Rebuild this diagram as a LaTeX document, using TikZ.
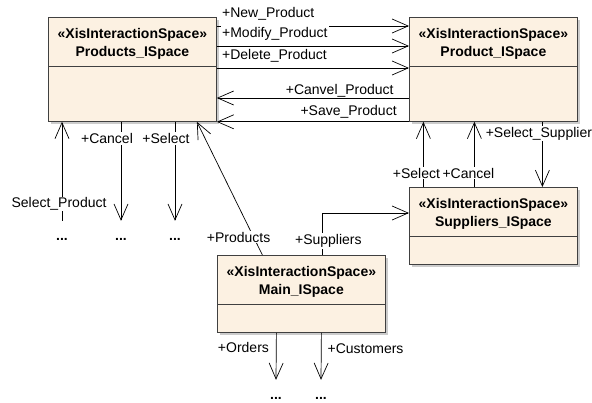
\documentclass[tikz,border=0pt]{standalone}
\usepackage{fontspec}
\setmainfont{Liberation Sans}
\usetikzlibrary{arrows.meta,positioning,shadows}
\definecolor{spacefill}{RGB}{252,241,226}
\definecolor{spaceline}{RGB}{64,64,64}

\tikzset{
  ispace/.style={draw=spaceline, fill=spacefill, line width=0.8pt, minimum width=168pt,
    inner sep=0pt, anchor=north west,
    drop shadow={shadow xshift=2.5pt, shadow yshift=-2.5pt, fill=black!40, opacity=0.5}},
  ititle/.style={font=\bfseries\fontsize{14}{18}\selectfont, align=center, inner sep=0pt},
  assoc/.style={draw=black, line width=0.7pt,
    -{Straight Barb[length=16pt,width=14pt,line width=0.7pt]}},
  role/.style={font=\fontsize{14}{16}\selectfont, fill=white, inner sep=1pt},
  elided/.style={font=\bfseries\fontsize{14}{16}\selectfont, inner sep=0pt, text height=19pt, anchor=base},
}

\begin{document}
\begin{tikzpicture}[x=1pt,y=-1pt]
\useasboundingbox (0,0) rectangle (592,402);

% interaction spaces
\foreach \id/\px/\py/\h/\nm in {products/48/17/104/Products, product/409/17/104/Product,
    suppliers/409/187/77/Suppliers, main/217/255/77/Main}{
  \node[ispace, minimum height=\h pt] (\id) at (\px,\py) {};
  \node[ititle] (\id-title) at ([yshift=-27pt]\id.north) {«XisInteractionSpace»\\\nm\_ISpace};
  \draw[spaceline, line width=0.8pt] ([yshift=-49pt]\id.north west) -- ([yshift=-49pt]\id.north east);
}

% elided targets
\node[elided] (dots1) at (62,240) {...};
\node[elided] (dots2) at (121,240) {...};
\node[elided] (dots3) at (175,240) {...};
\node[elided] (dots4) at (276,399) {...};
\node[elided] (dots5) at (321,399) {...};

% Products_ISpace -> Product_ISpace
\draw[assoc] ([yshift=-9pt]products.north east) -- ([yshift=-9pt]products.north east -| product.west)
  node[role, pos=0, anchor=base west, xshift=4pt, yshift=8.5pt] {+New\_Product};
\draw[assoc] ([yshift=-29pt]products.north east) -- ([yshift=-29pt]products.north east -| product.west)
  node[role, pos=0, anchor=base west, xshift=4pt, yshift=8.5pt] {+Modify\_Product};
\draw[assoc] ([yshift=-51pt]products.north east) -- ([yshift=-51pt]products.north east -| product.west)
  node[role, pos=0, anchor=base west, xshift=4pt, yshift=8.5pt] {+Delete\_Product};

% Product_ISpace -> Products_ISpace
\draw[assoc] ([yshift=-81pt]product.north west) -- ([yshift=-81pt]product.north west -| products.east)
  node[role, pos=0, anchor=base east, xshift=-14pt, yshift=4pt] {+Canvel\_Product};
\draw[assoc] (product.south west) -- (products.south east)
  node[role, pos=0, anchor=base east, xshift=-11pt, yshift=6pt] {+Save\_Product};

% below Products_ISpace
\draw[assoc] (dots1.north) -- (dots1.north |- products.south)
  node[role, pos=0.17, xshift=-3pt] {Select\_Product};
\draw[assoc] (dots2.north |- products.south) -- (dots2.north)
  node[role, pos=0.17, xshift=-14pt] {+Cancel};
\draw[assoc] (dots3.north |- products.south) -- (dots3.north)
  node[role, pos=0.17, xshift=-9pt] {+Select};

% Main_ISpace
\draw[assoc] ([xshift=-39pt]main.north) -- ([xshift=64.5pt]products.south)
  node[role, pos=0.134, xshift=-15pt] {+Products};
\draw[assoc] ([xshift=21pt]main.north) |- ([yshift=-26pt]suppliers.north west)
  node[role, pos=0.167, xshift=6pt] {+Suppliers};
\draw[assoc] ([xshift=-25pt]main.south) -- (dots4.north)
  node[role, pos=0.31, anchor=east, xshift=-6pt] {+Orders};
\draw[assoc] ([xshift=20pt]main.south) -- (dots5.north)
  node[role, pos=0.33, anchor=west, xshift=5pt] {+Customers};

% Product_ISpace <-> Suppliers_ISpace
\draw[assoc] ([xshift=49pt]product.south) -- ([xshift=49pt]suppliers.north)
  node[role, pos=0.18, anchor=west, xshift=-58pt] {+Select\_Supplier};
\draw[assoc] ([xshift=-70pt]suppliers.north) -- ([xshift=-70pt]product.south)
  node[role, pos=0.21, xshift=-7pt] {+Select};
\draw[assoc] ([xshift=-19pt]suppliers.north) -- ([xshift=-19pt]product.south)
  node[role, pos=0.21, xshift=-6pt] {+Cancel};
\end{tikzpicture}
\end{document}
